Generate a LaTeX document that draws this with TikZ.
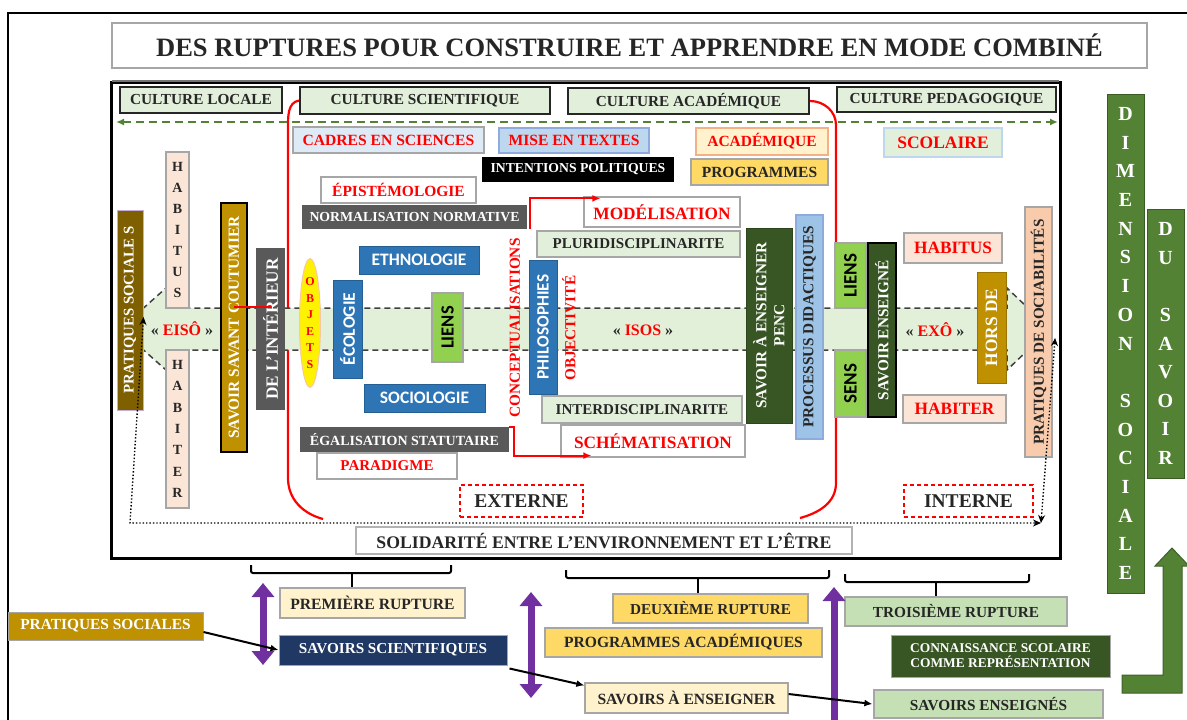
\documentclass[tikz,border=0pt]{standalone}
\usepackage{fontspec}
\setmainfont{Liberation Serif}
\newfontfamily\carlito{Carlito}
\usetikzlibrary{arrows.meta,calc,shapes.geometric}
\definecolor{cultg}{HTML}{E2EFDA}
\definecolor{gdark}{HTML}{548235}
\definecolor{redc}{HTML}{FF0000}
\definecolor{blu}{HTML}{2E75B6}
\definecolor{lblu}{HTML}{DEEBF7}
\definecolor{mblu}{HTML}{BDD7EE}
\definecolor{bordb}{HTML}{8FAADC}
\definecolor{cream}{HTML}{FFF2CC}
\definecolor{salm}{HTML}{F4B183}
\definecolor{gold}{HTML}{FFD966}
\definecolor{dgrey}{HTML}{595959}
\definecolor{limeg}{HTML}{92D050}
\definecolor{dkg}{HTML}{375623}
\definecolor{pblu}{HTML}{9DC3E6}
\definecolor{peach}{HTML}{FBE5D6}
\definecolor{mustard}{HTML}{BF9000}
\definecolor{psal}{HTML}{F8CBAD}
\definecolor{brownc}{HTML}{7F6000}
\definecolor{navy}{HTML}{203864}
\definecolor{midg}{HTML}{C5E0B4}
\definecolor{purp}{HTML}{7030A0}
\definecolor{bandg}{HTML}{E2F0D9}
\definecolor{gbord}{HTML}{A6A6A6}
\definecolor{txt}{HTML}{262626}
\tikzset{
  fsz/.style={font=\fontsize{#1}{#1}\selectfont\bfseries},
  fsans/.style={font=\carlito\fontsize{#1}{#1}\selectfont\bfseries},
  gb/.style={draw=gbord, line width=1.2pt},
  cult/.style={fill=cultg, draw=black!85, line width=2pt, text=txt, fsz=15.3},
  redl/.style={draw=redc, line width=2.2pt},
  redarr/.style={draw=redc, line width=2pt, -{Latex[length=8pt,width=7pt]}},
  blackarr/.style={draw=black, line width=2pt, -{Latex[length=8pt,width=7pt]}},
  dotl/.style={draw=black, line width=1.4pt, dotted, {Stealth[length=8pt,width=7pt]}-{Stealth[length=8pt,width=7pt]}},
  brk/.style={draw=black, line width=2pt, rounded corners=2pt},
  purparr/.style={draw=purp, line width=7pt, {Triangle[length=14pt,width=22pt]}-{Triangle[length=14pt,width=22pt]}},
  dashbox/.style={draw=redc, line width=1.6pt, dash pattern=on 4pt off 3pt, fill=white, text=txt, fsz=19.5},
}
\newcommand\mybox[7]{\pgfmathsetmacro\mbw{#4-#2}\pgfmathsetmacro\mbh{#5-#3}%
  \node[inner sep=0pt,minimum width=\mbw pt,minimum height=\mbh pt,#6] (#1) at ({(#2+#4)/2},{(#3+#5)/2}) {#7};}
\newcommand\myrbox[7]{\pgfmathsetmacro\mbw{#4-#2}\pgfmathsetmacro\mbh{#5-#3}%
  \node[inner sep=0pt,rotate=90,minimum width=\mbh pt,minimum height=\mbw pt,#6] (#1) at ({(#2+#4)/2},{(#3+#5)/2}) {#7};}
\begin{document}
\begin{tikzpicture}[x=1pt,y=-1pt]
\useasboundingbox (0,0) rectangle (1187,720);
\fill[white] (0,0) rectangle (1187,720);
% outer frame
\draw[line width=1.8pt] (8,740) -- (8,13) -- (1200,13);
% title
\mybox{title}{112}{23}{1147}{68}{draw=gbord, line width=1.5pt, fill=white, text=txt, fsz=26.5}{DES RUPTURES POUR CONSTRUIRE ET APPRENDRE EN MODE COMBINÉ}
% inner frame
\draw[line width=3pt, fill=white] (111,82) rectangle (1060,558);
\draw[line width=2pt, draw=black!55] (112,81) -- (1059,81);
% culture boxes
\mybox{cl}{120}{87}{282}{113}{cult}{CULTURE LOCALE}
\mybox{cs}{300}{87}{550}{114}{cult}{CULTURE SCIENTIFIQUE}
\mybox{ca}{568}{88}{809}{114}{cult}{CULTURE ACADÉMIQUE}
\mybox{cp}{837}{87}{1056}{112}{cult}{CULTURE PEDAGOGIQUE}
% red curves
\coordinate (rl) at (323,519);
\coordinate (rr) at (800,518);
\draw[redl] (cs.west) to[out=190,in=90] (288,128) -- (288,478) to[out=-90,in=165] (rl);
\draw[redl] (ca.east) to[out=0,in=90] (836,125) -- (836,483) to[out=-90,in=15] (rr);
% green dashed arrow
\coordinate (gl) at (116,122);
\coordinate (gr) at (1058,122);
\draw[draw=gdark, line width=2.6pt, dash pattern=on 8pt off 5pt, {Latex[length=8pt,width=7pt]}-{Latex[length=8pt,width=7pt]}] (gl) -- (gr);
% band
\filldraw[fill=bandg, draw=black!75, line width=1.5pt, dash pattern=on 6pt off 4pt]
  (120,329) -- (166,288) -- (166,308) -- (1007,308) -- (1007,288) -- (1050,329) -- (1007,370) -- (1007,350) -- (166,350) -- (166,370) -- cycle;
% top boxes
\mybox{cadres}{293}{127}{484}{153}{fill=lblu, gb, text=redc, fsz=15.6}{CADRES EN SCIENCES}
\mybox{mise}{499}{128}{649}{153}{fill=mblu, draw=bordb, line width=1.2pt, text=redc, fsz=15.6}{MISE EN TEXTES}
\mybox{intent}{482}{157}{674}{182}{fill=black, text=white, fsz=13.7}{INTENTIONS POLITIQUES}
\mybox{acad}{696}{128}{828}{155}{fill=cream, draw=salm, line width=1.5pt, text=redc, fsz=15.5}{ACADÉMIQUE}
\mybox{prog}{691}{159}{828}{185}{fill=gold, gb, text=txt, fsz=15.5}{PROGRAMMES}
\mybox{scol}{884}{128}{1002}{157}{fill=cultg, draw=mblu, line width=1.5pt, text=redc, fsz=17.5}{SCOLAIRE}
\mybox{epis}{321}{177}{476}{203}{fill=white, gb, text=redc, fsz=15.5}{ÉPISTÉMOLOGIE}
\mybox{norm}{302}{205}{527}{229}{fill=dgrey, text=white, fsz=13.8}{NORMALISATION NORMATIVE}
\mybox{mod}{584}{197}{740}{227}{fill=white, gb, text=redc, fsz=17.3}{MODÉLISATION}
\mybox{pluri}{537}{231}{740}{257}{fill=cultg, gb, text=txt, fsz=15}{PLURIDISCIPLINARITE}
\mybox{ethno}{359}{246}{479}{274}{fill=blu, draw=blu!80!black, line width=1pt, text=white, fsans=17.5}{ETHNOLOGIE}
\myrbox{eco}{333}{280}{362}{378}{fill=blu, draw=blu!80!black, line width=1pt, text=white, fsans=17.5}{ÉCOLOGIE}
\mybox{socio}{364}{384}{485}{412}{fill=blu, draw=blu!80!black, line width=1pt, text=white, fsans=17.5}{SOCIOLOGIE}
\myrbox{liensa}{432}{293}{463}{362}{fill=limeg, draw=gbord, line width=1.2pt, text=black, fsans=18.5}{LIENS}
\myrbox{philo}{529}{260}{557}{394}{fill=blu, draw=blu!80!black, line width=1pt, text=white, fsans=17.3}{PHILOSOPHIES}
\mybox{inter}{542}{396}{742}{423}{fill=cultg, gb, text=txt, fsz=15}{INTERDISCIPLINARITE}
\mybox{schem}{561}{425}{745}{457}{fill=white, gb, text=redc, fsz=17.3}{SCHÉMATISATION}
\mybox{egal}{300}{427}{509}{452}{fill=dgrey, text=white, fsz=14}{ÉGALISATION STATUTAIRE}
\mybox{para}{317}{453}{457}{479}{fill=white, gb, text=redc, fsz=15}{PARADIGME}
\node[rotate=90, text=redc, fsz=15.3, inner sep=0pt] (concept) at (515,328) {CONCEPTUALISATIONS};
\node[rotate=90, text=redc, fsz=15.3, inner sep=0pt] (objv) at (569,328) {OBJECTIVITÉ};
\myrbox{sae}{746}{228}{792}{423}{fill=dkg, draw=dkg!80!black, line width=1pt, text=white, align=center, font=\fontsize{15.3}{18}\selectfont\bfseries}{SAVOIR À ENSEIGNER\\PENC}
\myrbox{proc}{796}{215}{823}{439}{fill=pblu, draw=bordb, line width=1.2pt, text=txt, fsz=15.3}{PROCESSUS DIDACTIQUES}
\myrbox{liensb}{835}{243}{866}{308}{fill=limeg, draw=gbord, line width=1.2pt, text=black, fsans=19}{LIENS}
\myrbox{sens}{835}{350}{866}{417}{fill=limeg, draw=gbord, line width=1.2pt, text=black, fsans=19}{SENS}
\myrbox{seng}{868}{243}{896}{417}{fill=dkg, draw=black, line width=1.5pt, text=white, fsz=15.3}{SAVOIR ENSEIGNÉ}
\mybox{habitusb}{904}{233}{1002}{263}{fill=peach, gb, text=redc, fsz=17.3}{HABITUS}
\mybox{habiterb}{903}{395}{1006}{423}{fill=peach, gb, text=redc, fsz=17.3}{HABITER}
\myrbox{hors}{977}{272}{1006}{383}{fill=mustard, draw=mustard!80!black, line width=1pt, text=white, fsz=17.3}{HORS DE}
\myrbox{psoc}{1025}{207}{1052}{457}{fill=psal, gb, text=txt, fsz=15.2}{PRATIQUES DE SOCIABILITÉS}
% left column
\myrbox{ps}{117}{210}{143}{410}{fill=brownc, draw=purp!40, line width=1pt, text=white, fsz=14.8}{PRATIQUES SOCIALE S}
\mybox{habitusa}{166}{152}{189}{308}{fill=peach, gb, text=txt, align=center, font=\fontsize{14}{21}\selectfont\bfseries}{H\\A\\B\\I\\T\\U\\S}
\mybox{habitera}{166}{350}{189}{508}{fill=peach, gb, text=txt, align=center, font=\fontsize{14}{21.3}\selectfont\bfseries}{H\\A\\B\\I\\T\\E\\R}
\myrbox{ssc}{221}{203}{247}{452}{fill=mustard, draw=black, line width=2pt, text=white, fsz=15.4}{SAVOIR SAVANT COUTUMIER}
\myrbox{inter2}{256}{248}{285}{410}{fill=dgrey, text=white, fsz=17.2}{DE L'INTÉRIEUR}
\node[ellipse, fill=yellow, draw=salm!70, line width=1pt, minimum width=21pt, minimum height=112pt, inner sep=0pt, text=redc, align=center, font=\fontsize{12}{16.6}\selectfont\bfseries] (objets) at (310,323) {O\\B\\J\\E\\T\\S};
\coordinate (ry) at (0,307);
\draw[redl] (ssc.east |- ry) -- (inter2.west |- ry);
% band texts
\node[fsz=16, text=txt, inner sep=0pt] (eiso) at (182,329) {« \textcolor{redc}{EISÔ} »};
\node[fsz=16, text=txt, inner sep=0pt] (isos) at (643,330) {« \textcolor{redc}{ISOS} »};
\node[fsz=16, text=txt, inner sep=0pt] (exo) at (935,330) {« \textcolor{redc}{EXÔ} »};
% red connectors
\coordinate (m1) at ($(mod.north west)+(17,2)$);
\coordinate (m2) at ($(schem.south west)+(31,-2)$);
\draw[redarr] ($(norm.south east)+(3,0)$) |- (m1);
\draw[redarr] (egal.north east) -- ++(5,0) |- (m2);
% externe / interne / solidarite
\mybox{externe}{460}{485}{583}{517}{dashbox}{EXTERNE}
\mybox{interne}{904}{485}{1033}{517}{dashbox}{INTERNE}
\mybox{solid}{356}{527}{852}{554}{fill=white, draw=black!30, line width=1.5pt, text=txt, fsz=17.7}{SOLIDARITÉ ENTRE L'ENVIRONNEMENT ET L'ÊTRE}
% dotted loop
\coordinate (dl) at (130,523);
\coordinate (dr) at (1041,523);
\draw[dotl] ($(ps.south)+(0,7)$) -- (dl) -- (dr);
\draw[dotl] ($(psoc.south)+(2.5,6)$) -- (dr);
% right columns
\mybox{dim}{1107}{94}{1144}{593}{fill=gdark, draw=gdark!70!black, line width=1pt, text=white, align=center, font=\fontsize{20}{28.7}\selectfont\bfseries}{D\\I\\M\\E\\N\\S\\I\\O\\N\\\mbox{}\\S\\O\\C\\I\\A\\L\\E}
\mybox{dusav}{1147}{209}{1184}{478}{fill=gdark, draw=gdark!70!black, line width=1pt, text=white, align=center, font=\fontsize{20}{28.6}\selectfont\bfseries}{D\\U\\\mbox{}\\S\\A\\V\\O\\I\\R}
\filldraw[fill=gdark, draw=gdark!75!black, line width=1pt] (1122,675) -- (1163,675) -- (1163,566) -- (1155,566) -- (1172,548) -- (1189,566) -- (1182,566) -- (1182,693) -- (1122,693) -- cycle;
% bottom boxes
\mybox{prem}{280}{588}{465}{618}{fill=cream, gb, text=txt, fsz=15.7}{PREMIÈRE RUPTURE}
\mybox{psb}{8}{612}{203}{640}{fill=mustard, draw=gbord, line width=1pt, text=white, fsz=15.4}{PRATIQUES SOCIALES}
\mybox{ssci}{279}{635}{507}{665}{fill=navy, draw=gbord, line width=1pt, text=white, fsz=15.2}{SAVOIRS SCIENTIFIQUES}
\mybox{deux}{613}{594}{808}{623}{fill=gold, gb, text=txt, fsz=15.2}{DEUXIÈME RUPTURE}
\mybox{progac}{545}{628}{822}{657}{fill=gold, gb, text=txt, fsz=15.6}{PROGRAMMES ACADÉMIQUES}
\mybox{saeb}{585}{683}{788}{713}{fill=cream, gb, text=txt, fsz=15.6}{SAVOIRS À ENSEIGNER}
\mybox{trois}{845}{597}{1067}{626}{fill=midg, gb, text=txt, fsz=15.3}{TROISIÈME RUPTURE}
\mybox{conn}{891}{635}{1110}{677}{fill=dkg, draw=gbord, line width=1pt, text=white, align=center, font=\fontsize{13.4}{15}\selectfont\bfseries}{CONNAISSANCE SCOLAIRE\\COMME REPRÉSENTATION}
\mybox{sengb}{874}{690}{1103}{718}{fill=midg, gb, text=txt, fsz=15.3}{SAVOIRS ENSEIGNÉS}
% brackets
\draw[brk] (251,565) -- (251,573) -- (451,573) -- (451,565);
\draw[brk] (566,570) -- (566,578) -- (829,578) -- (829,570);
\draw[brk] (845,574) -- (845,582) -- (1029,582) -- (1029,574);
\coordinate (st1) at (352,573);
\coordinate (st2) at (698,578);
\coordinate (st3) at (936,582);
\draw[line width=2pt] (st1) -- (st1 |- prem.north);
\draw[line width=2pt] (st2) -- (st2 |- deux.north);
\draw[line width=2pt] (st3) -- (st3 |- trois.north);
% purple arrows
\coordinate (pa1) at (263,583); \coordinate (pb1) at (263,665);
\coordinate (pa2) at (531,592); \coordinate (pb2) at (531,698);
\coordinate (pa3) at (834,587); \coordinate (pb3) at (834,735);
\draw[purparr] (pa1) -- (pb1);
\draw[purparr] (pa2) -- (pb2);
\draw[purparr] (pa3) -- (pb3);
% black arrows
\draw[blackarr] ($(psb.east)+(0,6)$) -- (ssci.west);
\draw[blackarr] ($(ssci.south east)+(2,3)$) -- ($(saeb.north west)+(0,3)$);
\draw[blackarr] ($(saeb.east)+(0,-4)$) -- ($(sengb.west)+(-1,0)$);
\end{tikzpicture}
\end{document}
